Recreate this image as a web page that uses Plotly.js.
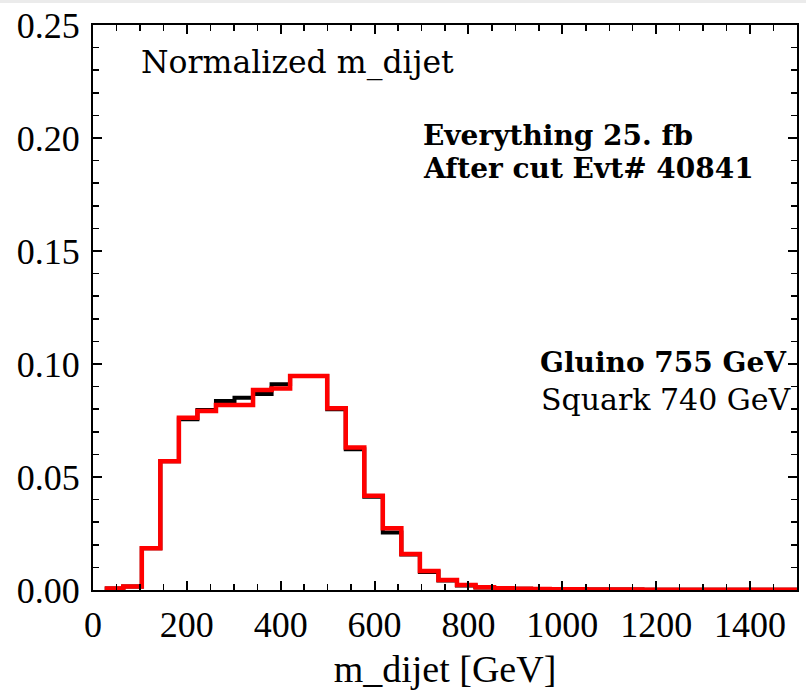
<!DOCTYPE html>
<html>
<head>
<meta charset="utf-8">
<script src="https://cdn.plot.ly/plotly-3.0.1.min.js"></script>
<style>html,body{margin:0;padding:0;background:#fff;}#chart{width:806px;height:696px;}</style>
</head>
<body>
<div id="chart"></div>
<script>
// bin edges (GeV); the last entry is the right edge of the final bin (clipped at the axis end)
const binEdges = [25, 64.5, 104, 143.5, 183, 222.5, 262, 301.5, 341, 380.5, 420, 459.5, 499, 538.5, 578, 617.5, 657, 696.5, 736, 775.5, 815, 854.5, 894, 933.5, 973, 1012.5, 1052, 1091.5, 1131, 1170.5, 1210, 1249.5, 1289, 1328.5, 1368, 1407.5, 1447, 1486.5, 1500];
// Squark 740 GeV (black)
const squarkVals = [0.0007, 0.0015, 0.0185, 0.0570, 0.0755, 0.0796, 0.0836, 0.0851, 0.0867, 0.0910, 0.0947, 0.0947, 0.0800, 0.0623, 0.0413, 0.0254, 0.0157, 0.0080, 0.0042, 0.0020, 0.0011, 0.0007, 0.0005, 0.0004, 0.0003, 0.0003, 0.0002, 0.0002, 0.0002, 0.0001, 0.0001, 0.0001, 0.0001, 0.0001, 0.0001, 0.0001, 0.0001, 0.0001];
// Gluino 755 GeV (red)
const gluinoVals = [0.0007, 0.0015, 0.0185, 0.0570, 0.0762, 0.0792, 0.0819, 0.0819, 0.0885, 0.0892, 0.0947, 0.0947, 0.0804, 0.0630, 0.0417, 0.0273, 0.0159, 0.0084, 0.0044, 0.0022, 0.0012, 0.0008, 0.0006, 0.0004, 0.0003, 0.0003, 0.0002, 0.0002, 0.0002, 0.0001, 0.0001, 0.0001, 0.0001, 0.0001, 0.0001, 0.0001, 0.0001, 0.0001];

function stepY(vals) { return vals.concat([vals[vals.length - 1]]); }

const traces = [
  {x: binEdges, y: stepY(squarkVals), type: 'scatter', mode: 'lines', line: {shape: 'hv', color: '#000000', width: 4}, name: 'Squark 740 GeV', showlegend: false, hoverinfo: 'skip'},
  {x: binEdges, y: stepY(gluinoVals), type: 'scatter', mode: 'lines', line: {shape: 'hv', color: '#ff0000', width: 4.5}, name: 'Gluino 755 GeV', showlegend: false, hoverinfo: 'skip'}
];

const L = 93, R = 9, T = 25, B = 106, W = 806 - L - R, H = 696 - T - B;
function px(x) { return (x - L) / W; }
function py(y) { return (696 - B - y) / H; }

const serif = 'DejaVu Serif';
const tickFont = {family: 'Liberation Serif', size: 36, color: '#000'};

const layout = {
  width: 806, height: 696,
  margin: {l: L, r: R, t: T, b: B, pad: 0},
  paper_bgcolor: '#ffffff', plot_bgcolor: '#ffffff',
  xaxis: {
    range: [0, 1500], tickmode: 'linear', tick0: 0, dtick: 200,
    ticks: 'inside', ticklen: 9, tickwidth: 2, tickcolor: '#000',
    minor: {tickmode: 'linear', tick0: 0, dtick: 50, ticks: 'inside', ticklen: 6, tickwidth: 1.5, tickcolor: '#000', showgrid: false},
    showline: true, linecolor: '#000', linewidth: 2, mirror: 'allticks',
    showgrid: false, zeroline: false, tickfont: tickFont, ticklabelstandoff: 2,
    title: {text: 'm_dijet [GeV]', font: {family: 'Liberation Serif', size: 38, color: '#000'}, standoff: 11}
  },
  yaxis: {
    range: [0, 0.25], tickmode: 'linear', tick0: 0, dtick: 0.05, tickformat: '.2f',
    ticks: 'inside', ticklen: 9, tickwidth: 2, tickcolor: '#000',
    minor: {tickmode: 'linear', tick0: 0, dtick: 0.01, ticks: 'inside', ticklen: 6, tickwidth: 1.5, tickcolor: '#000', showgrid: false},
    showline: true, linecolor: '#000', linewidth: 2, mirror: 'allticks',
    showgrid: false, zeroline: false, tickfont: tickFont, ticklabelstandoff: 4
  },
  shapes: [
    {type: 'rect', xref: 'paper', yref: 'paper', x0: px(0), x1: px(806), y0: py(3), y1: py(0), fillcolor: '#ebebeb', line: {width: 0}, layer: 'below'}
  ],
  annotations: [
    {xref: 'paper', yref: 'paper', x: px(139), y: py(63), xanchor: 'left', yanchor: 'middle', showarrow: false, text: 'Normalized m_dijet', font: {family: serif, size: 31.5, color: '#000'}},
    {xref: 'paper', yref: 'paper', x: px(421), y: py(135), xanchor: 'left', yanchor: 'middle', showarrow: false, text: '<b>Everything 25. fb</b>', font: {family: serif, size: 28, color: '#000'}},
    {xref: 'paper', yref: 'paper', x: px(421), y: py(168), xanchor: 'left', yanchor: 'middle', showarrow: false, text: '<b>After cut Evt# 40841</b>', font: {family: serif, size: 28, color: '#000'}},
    {xref: 'paper', yref: 'paper', x: px(789), y: py(362), xanchor: 'right', yanchor: 'middle', showarrow: false, text: '<b>Gluino 755 GeV</b>', font: {family: serif, size: 28, color: '#000'}},
    {xref: 'paper', yref: 'paper', x: px(794), y: py(399), xanchor: 'right', yanchor: 'middle', showarrow: false, text: 'Squark 740 GeV', font: {family: serif, size: 30, color: '#000'}}
  ]
};

Plotly.newPlot('chart', traces, layout, {displayModeBar: false, staticPlot: true});
</script>
</body>
</html>
